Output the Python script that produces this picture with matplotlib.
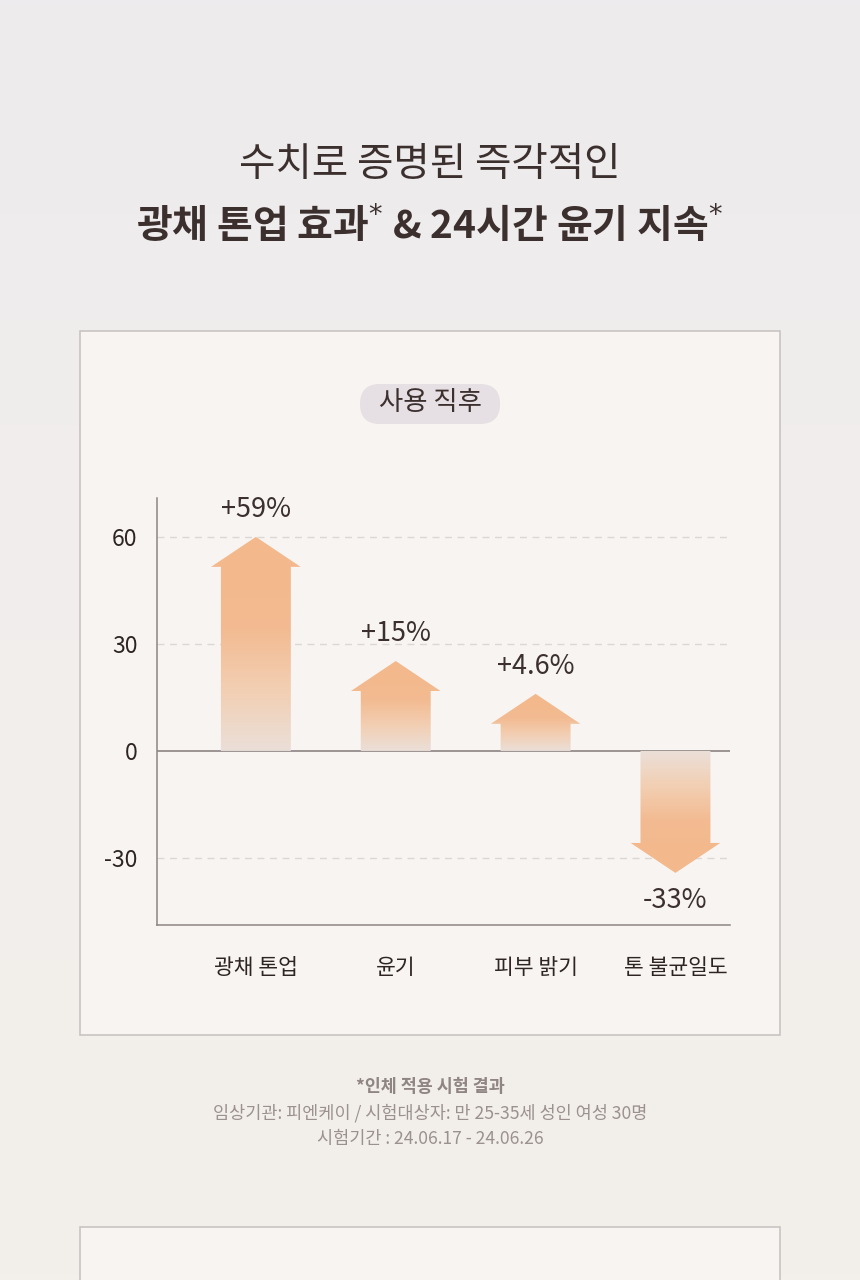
import matplotlib
matplotlib.use("Agg")
import matplotlib.pyplot as plt
from matplotlib.colors import LinearSegmentedColormap
from matplotlib.patches import Polygon, Rectangle, FancyBboxPatch
import numpy as np

plt.rcParams['font.family'] = ['Noto Sans CJK KR', 'DejaVu Sans']

# data
categories = ["광채 톤업", "윤기", "피부 밝기", "톤 불균일도"]
values = [59, 15, 4.6, -33]
value_labels = ["+59%", "+15%", "+4.6%", "-33%"]
arrow_tips = [60, 25.2, 16, -34.2]      # drawn arrow length (stylised, not to scale)
y_ticks = [60, 30, 0, -30]

title_1 = "수치로 증명된 즉각적인"
title_2 = "광채 톤업 효과$^{*}$ & 24시간 윤기 지속$^{*}$"
badge = "사용 직후"
notes = ["*인체 적용 시험 결과",
         "임상기관: 피엔케이 / 시험대상자: 만 25-35세 성인 여성 30명",
         "시험기간 : 24.06.17 - 24.06.26"]

W, H = 860, 1280
dark = "#3b302e"
axis_c = "#8c8483"

fig = plt.figure(figsize=(W / 100, H / 100), dpi=100)

# page background
bg = fig.add_axes([0, 0, 1, 1])
bg.set_xlim(0, W)
bg.set_ylim(H, 0)
bg.axis("off")
page_cmap = LinearSegmentedColormap.from_list("page", ["#eeebee", "#f1eeec", "#f3efea"])
bg.imshow(np.linspace(0, 1, 256).reshape(-1, 1), cmap=page_cmap, aspect="auto",
          extent=[0, W, H, 0], zorder=0)

# cards
bg.add_patch(Rectangle((80, 331), 700, 704, facecolor="#f7f4f2", edgecolor="#c9c4c3", lw=1.2, zorder=1))
bg.add_patch(Rectangle((80, 1227), 700, 80, facecolor="#f7f4f2", edgecolor="#c9c4c3", lw=1.2, zorder=1))

# titles
bg.text(430, 165, title_1, ha="center", va="center", fontsize=28.5, color=dark,
        fontweight="medium", zorder=3)
bg.text(430, 225, title_2, ha="center", va="center", fontsize=28, color=dark,
        fontweight="bold", zorder=3)

# badge
bg.add_patch(FancyBboxPatch((360, 384), 140, 40, boxstyle="round,pad=0,rounding_size=20",
                            facecolor="#e6dfe3", edgecolor="none", zorder=2))
bg.text(430, 403, badge, ha="center", va="center", fontsize=19, color=dark,
        fontweight="medium", zorder=3)

# footnotes
bg.text(430, 1087, notes[0], ha="center", va="center", fontsize=12.5, color="#8f8582",
        fontweight="bold", zorder=3)
bg.text(430, 1113, notes[1], ha="center", va="center", fontsize=12.6, color="#9b918e", zorder=3)
bg.text(430, 1139, notes[2], ha="center", va="center", fontsize=12.6, color="#9b918e", zorder=3)

# chart axes
left, right, top, bottom = 157, 730, 498, 925
ax = fig.add_axes([left / W, 1 - bottom / H, (right - left) / W, (bottom - top) / H])
ax.set_facecolor("none")
x = np.arange(len(categories))
ax.set_xlim(-0.707, 3.39)
ax.set_ylim(-48.8, 70.9)

for t in y_ticks:
    if t == 0:
        ax.axhline(0, color=axis_c, lw=1.2, zorder=1)
    else:
        ax.axhline(t, color="#dcd6d5", lw=1, ls=(0, (5, 4)), zorder=1)

arrow_cmap = LinearSegmentedColormap.from_list("arr", ["#ebdfd8", "#f2cfb3", "#f3bb92", "#f3b98c"])
shaft_hw, head_hw, head_h = 0.25, 0.32, 8.4
for xi, tip, lab in zip(x, arrow_tips, value_labels):
    s = np.sign(tip)
    base = tip - s * head_h
    pts = [(xi - shaft_hw, 0), (xi - shaft_hw, base), (xi - head_hw, base), (xi, tip),
           (xi + head_hw, base), (xi + shaft_hw, base), (xi + shaft_hw, 0)]
    poly = Polygon(pts, closed=True, facecolor="none", edgecolor="none")
    ax.add_patch(poly)
    grad = np.clip(np.linspace(0, 1, 200) / 0.85, 0, 1).reshape(-1, 1)
    lo, hi = (0, tip) if tip > 0 else (tip, 0)
    if tip < 0:
        grad = grad[::-1]
    im = ax.imshow(grad, cmap=arrow_cmap, aspect="auto", origin="lower",
                   extent=[xi - head_hw, xi + head_hw, lo, hi], zorder=2)
    im.set_clip_path(poly)
    ax.text(xi, tip + s * 7.6, lab, ha="center", va="center", fontsize=19.5,
            color=dark, fontweight="medium")

ax.set_xticks(x)
ax.set_xticklabels(categories, fontsize=15.5, color="#2e2523", fontweight="medium")
ax.set_yticks(y_ticks)
ax.set_yticklabels([str(t) for t in y_ticks], fontsize=16.5, color="#2e2523")
ax.tick_params(axis="both", length=0)
ax.tick_params(axis="x", pad=23)
ax.tick_params(axis="y", pad=14)
for side in ["top", "right"]:
    ax.spines[side].set_visible(False)
for side in ["left", "bottom"]:
    ax.spines[side].set_color(axis_c)
    ax.spines[side].set_linewidth(1.1)

fig.savefig("out.png", dpi=100)
